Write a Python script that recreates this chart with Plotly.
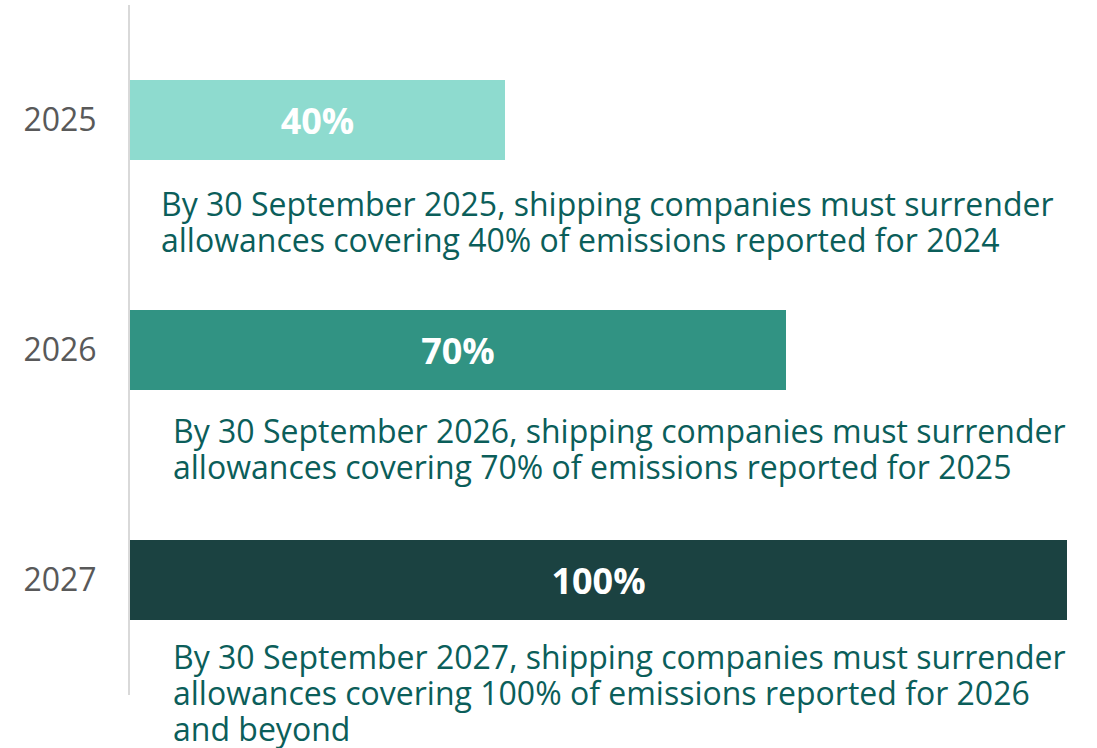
import plotly.graph_objects as go

years = ["2025", "2026", "2027"]
shares = [40, 70, 100]
bar_labels = ["40%", "70%", "100%"]
notes = [
    ["By 30 September 2025, shipping companies must surrender",
     "allowances covering 40% of emissions reported for 2024"],
    ["By 30 September 2026, shipping companies must surrender",
     "allowances covering 70% of emissions reported for 2025"],
    ["By 30 September 2027, shipping companies must surrender",
     "allowances covering 100% of emissions reported for 2026",
     "and beyond"],
]
colors = ["#8EDBCF", "#319383", "#1B4241"]

# layout offsets for the notes
note_x = [3.1, 4.4, 4.4]          # data units
note_y0 = [0.362, 0.350, 0.333]   # data units below category centre
line_step_px = 36                 # pixels between lines

FONT = "Open Sans"

fig = go.Figure(go.Bar(
    y=years, x=shares, orientation="h",
    marker=dict(color=colors, line=dict(width=0)),
    width=0.352,
    text=bar_labels, textposition="inside", insidetextanchor="middle",
    textfont=dict(family=FONT, size=36, color="white", weight="bold"),
    hoverinfo="skip",
))

for i, lines in enumerate(notes):
    for k, line in enumerate(lines):
        fig.add_annotation(
            x=note_x[i], y=i + note_y0[i], xref="x", yref="y",
            yshift=-k * line_step_px,
            text=line, showarrow=False, xanchor="left", yanchor="middle", align="left",
            font=dict(family=FONT, size=32, color="#0B5E5A"),
        )

fig.update_layout(
    width=1097, height=748,
    margin=dict(l=130, r=30, t=5, b=53),
    paper_bgcolor="white", plot_bgcolor="white",
    showlegend=False,
    bargap=0,
)
fig.update_xaxes(range=[0, 100], visible=False)
fig.update_yaxes(
    categoryorder="array", categoryarray=years, range=[2.5, -0.5],
    showline=True, linecolor="#D9D9D9", linewidth=2,
    showgrid=False, zeroline=False, ticks="",
    ticklabelstandoff=25,
    tickfont=dict(family=FONT, size=32, color="#595959"),
)

fig.write_html("out.html")
